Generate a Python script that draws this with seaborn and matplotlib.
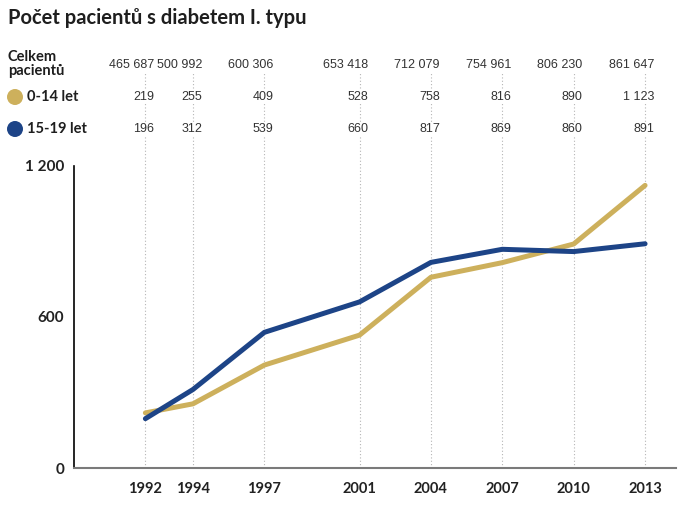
import pandas as pd
import matplotlib.pyplot as plt
import matplotlib.transforms as mtransforms
from matplotlib.patches import Ellipse
import seaborn as sns

# Data
years = [1992, 1994, 1997, 2001, 2004, 2007, 2010, 2013]
total = ["465 687", "500 992", "600 306", "653 418", "712 079", "754 961", "806 230", "861 647"]
kids = [219, 255, 409, 528, 758, 816, 890, 1123]
teens = [196, 312, 539, 660, 817, 869, 860, 891]
series_names = ["0-14 let", "15-19 let"]
colors = ["#CDB05C", "#1D4487"]

df = pd.DataFrame({
    "Rok": years * 2,
    "Počet": kids + teens,
    "Skupina": [series_names[0]] * len(years) + [series_names[1]] * len(years),
})

sns.set_style("white")
plt.rcParams["font.family"] = ["Lato", "DejaVu Sans"]

fig = plt.figure(figsize=(6.82, 5.12), dpi=100)
ax = fig.add_axes([74 / 682, 1 - 468 / 512, 602 / 682, 302 / 512])

sns.lineplot(data=df, x="Rok", y="Počet", hue="Skupina", hue_order=series_names,
             palette=colors, linewidth=3.6, legend=False, ax=ax)

ax.set_xlim(1989.0, 2014.3)
ax.set_ylim(0, 1200)
ax.set_xticks(years)
ax.set_xticklabels([str(y) for y in years], fontweight="bold", fontsize=10.5, color="#222222")
ax.set_yticks([0, 600, 1200])
ax.set_yticklabels(["0", "600", "1 200"], fontweight="bold", fontsize=11, color="#222222")
ax.tick_params(axis="x", length=0, pad=10)
ax.tick_params(axis="y", length=0, pad=7)
ax.set_xlabel("")
ax.set_ylabel("")

sns.despine(ax=ax)
ax.spines["left"].set_color("black")
ax.spines["left"].set_linewidth(1.2)
ax.spines["bottom"].set_color("#7a7a7a")
ax.spines["bottom"].set_linewidth(1.5)

# dotted guide lines through table and chart
blend = mtransforms.blended_transform_factory(ax.transData, fig.transFigure)
ax.vlines(years, 1 - 468 / 512, 1 - 66 / 512, transform=blend, clip_on=False,
          colors="#b5b5b5", linestyles=(0, (1, 2)), linewidth=0.8, zorder=0)

# title
fig.text(8 / 682, 1 - 18 / 512, "Počet pacientů s diabetem I. typu",
         fontsize=14.5, fontweight="bold", va="center", ha="left", color="#1e1e1e")

# table header and legend
fig.text(8 / 682, 1 - 64 / 512, "Celkem\npacientů", fontsize=10.5, fontweight="bold",
         va="center", ha="left", linespacing=1.05, color="#1e1e1e")
row_y = [65, 97, 129]
for i, name in enumerate(series_names):
    yf = 1 - row_y[i + 1] / 512
    fig.add_artist(Ellipse((15 / 682, yf), 16 / 682, 16 / 512,
                           transform=fig.transFigure, facecolor=colors[i], edgecolor="none"))
    fig.text(27 / 682, yf, name, fontsize=10.5, fontweight="bold",
             va="center", ha="left", color="#1e1e1e")

# table numbers, right aligned just right of each year line
shift = mtransforms.ScaledTranslation(9 / 100, 0, fig.dpi_scale_trans)
num_font = ["Liberation Sans", "DejaVu Sans"]
rows = [total,
        [f"{v:,}".replace(",", " ") for v in kids],
        [f"{v:,}".replace(",", " ") for v in teens]]
for r, vals in enumerate(rows):
    for yr, v in zip(years, vals):
        fig.text(yr, 1 - row_y[r] / 512, v, transform=blend + shift,
                 ha="right", va="center", fontsize=9, family=num_font, color="#333333",
                 bbox=dict(facecolor="white", edgecolor="none", pad=0.6))

plt.savefig("out.png", dpi=100)
